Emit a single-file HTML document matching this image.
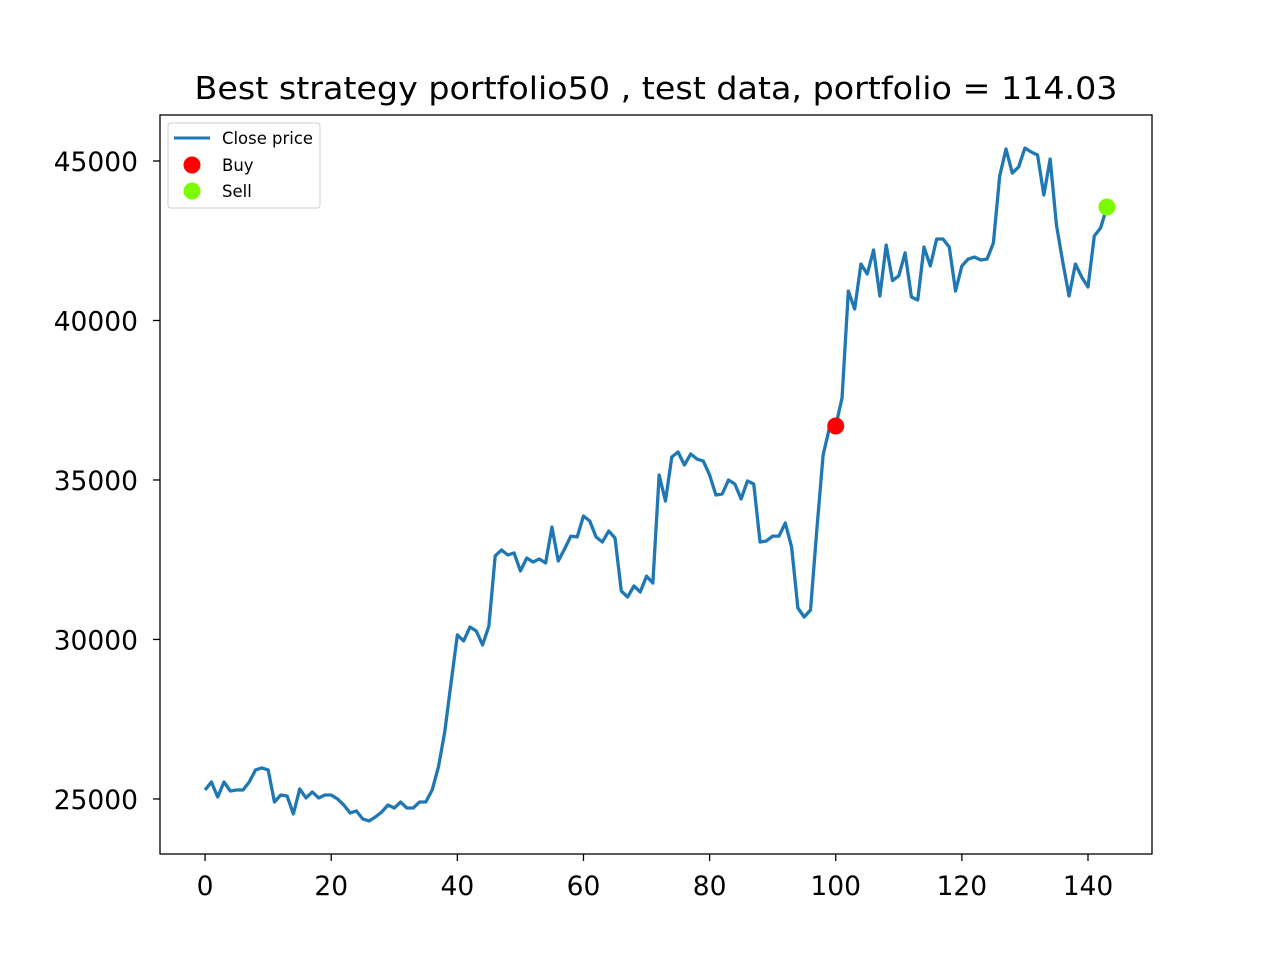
<!DOCTYPE html>
<html><head><meta charset="utf-8"><style>
body{margin:0;background:#fff;}
svg text{font-family:"DejaVu Sans","Liberation Sans",sans-serif;}
</style></head><body>
<svg id="chart" width="1280" height="960" xmlns="http://www.w3.org/2000/svg">
<rect width="1280" height="960" fill="#fff"/>
<text x="656" y="99" font-size="31" text-anchor="middle" textLength="923" lengthAdjust="spacingAndGlyphs">Best strategy portfolio50 , test data, portfolio = 114.03</text>
<g id="axes"></g>
<g id="series"></g>
<rect x="160" y="115" width="992" height="739" fill="none" stroke="#000" stroke-width="1.3"/>
<g>
<rect x="168" y="123" width="152" height="85" rx="3" fill="#fff" fill-opacity="0.8" stroke="#ccc"/>
<line x1="174" y1="138" x2="210" y2="138" stroke="#1f77b4" stroke-width="3"/>
<text x="222" y="144" font-size="16.5" textLength="91" lengthAdjust="spacingAndGlyphs">Close price</text>
<circle cx="192" cy="165" r="8.5" fill="#ff0000"/>
<text x="222" y="171" font-size="16.5">Buy</text>
<circle cx="192" cy="191" r="8.5" fill="#7cfc00"/>
<text x="222" y="197" font-size="16.5">Sell</text>
</g>
</svg>
<script>
const closePrices=[25280,25532,25062,25532,25249,25280,25280,25532,25908,25971,25908,24904,25124,25093,24529,25312,25030,25218,25030,25124,25124,24999,24810,24560,24623,24372,24309,24434,24591,24810,24716,24904,24716,24716,24904,24904,25280,26002,27099,28635,30142,29954,30390,30265,29826,30422,32617,32805,32648,32711,32147,32554,32429,32523,32398,33526,32460,32836,33240,33212,33870,33713,33212,33055,33400,33181,31519,31331,31676,31488,31986,31770,35156,34340,35720,35877,35469,35814,35657,35594,35156,34530,34560,35000,34873,34404,34968,34873,33055,33087,33240,33240,33650,32900,30986,30704,30924,33432,35783,36629,36692,37570,40924,40360,41770,41457,42210,40768,42366,41250,41400,42120,40736,40642,42304,41708,42554,42554,42304,40924,41708,41927,41990,41896,41927,42429,44529,45376,44623,44812,45407,45282,45188,43934,45063,42993,41833,40768,41770,41363,41050,42648,42899,43557];
const buyIdx=[100];
const sellIdx=[143];
const xTicks=[0,20,40,60,80,100,120,140];
const yTicks=[25000,30000,35000,40000,45000];
const NS="http://www.w3.org/2000/svg";
const L=160,R=1152,T=115,B=854;
const xMin=-7.15,xMax=150.15,yMin=23274,yMax=46442;
function xs(v){return L+(v-xMin)/(xMax-xMin)*(R-L);}
function ys(v){return B-(v-yMin)/(yMax-yMin)*(B-T);}
const axes=document.getElementById('axes'),series=document.getElementById('series');
function mk(tag,attrs,parent){const e=document.createElementNS(NS,tag);for(const k in attrs)e.setAttribute(k,attrs[k]);parent.appendChild(e);return e;}
xTicks.forEach(t=>{
  const l=mk('line',{x1:xs(t),x2:xs(t),y1:B,y2:B+7,stroke:'#000','stroke-width':1.3},axes);
  
  
  const tx=mk('text',{x:xs(t),y:B+41,'font-size':26.5,'text-anchor':'middle'},axes);
  tx.textContent=t;
  
  
});
yTicks.forEach(t=>{
  const l=mk('line',{x1:L-7,x2:L,y1:ys(t),y2:ys(t),stroke:'#000','stroke-width':1.3},axes);
  
  
  const tx=mk('text',{x:L-22,y:ys(t)+10,'font-size':26.5,'text-anchor':'end'},axes);
  tx.textContent=t;
  
  
});
const pts=closePrices.map((v,i)=>xs(i).toFixed(2)+','+ys(v).toFixed(2)).join(' ');
const pl=mk('polyline',{points:pts,fill:'none',stroke:'#1f77b4','stroke-width':3.3,'stroke-linejoin':'round'},series);


buyIdx.forEach(i=>{
  const c=mk('circle',{cx:xs(i),cy:ys(closePrices[i]),r:8.5,fill:'#ff0000'},series);
  
  
});
sellIdx.forEach(i=>{
  const c=mk('circle',{cx:xs(i),cy:ys(closePrices[i]),r:8.5,fill:'#7cfc00'},series);
  
  
});
</script>
</body></html>
